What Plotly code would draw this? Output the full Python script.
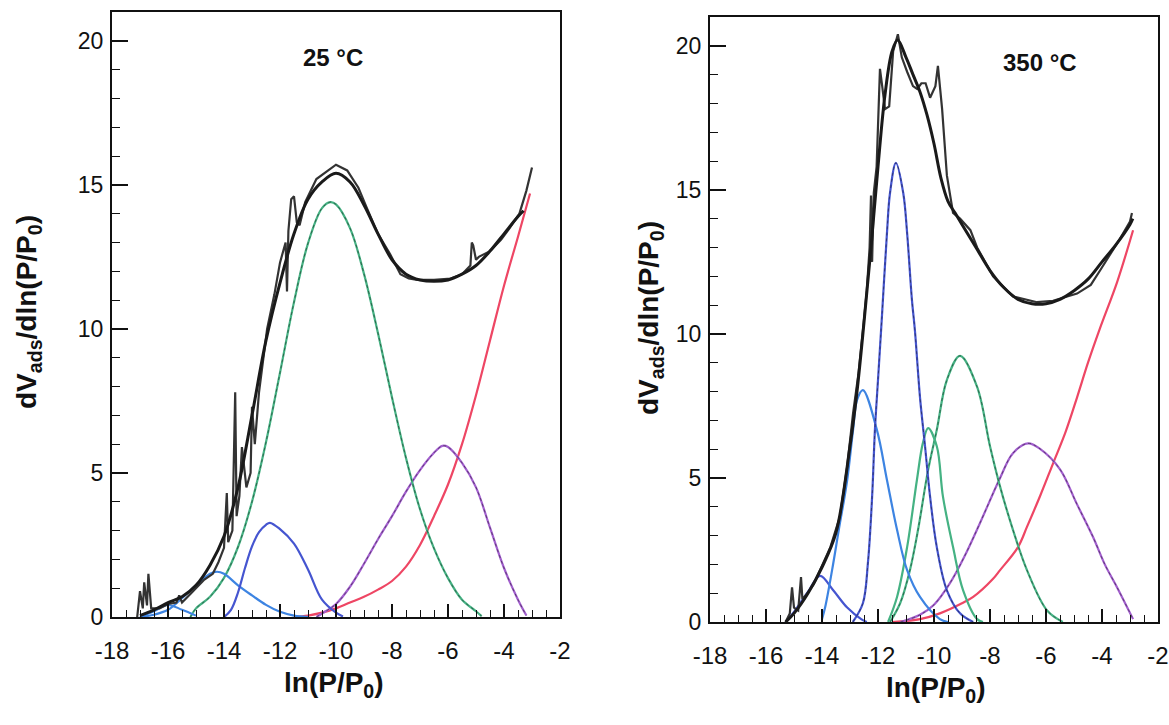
import plotly.graph_objects as go

W, H = 1169, 725

# ---------------- Left panel (25 °C) ----------------
L_exp_x = [-17.1, -17.0, -16.9, -16.85, -16.75, -16.7, -16.6, -16.3, -16.0, -15.7, -15.6, -15.5, -15.2, -15.0,
           -14.7, -14.4, -14.2, -14.0, -13.9, -13.85, -13.7, -13.6, -13.55, -13.45, -13.36, -13.2, -13.05, -13.0,
           -12.9, -12.75, -12.6, -12.46, -12.2, -12.0, -11.8, -11.75, -11.7, -11.6, -11.5, -11.4, -11.3, -11.1,
           -10.7, -10.3, -10.0, -9.6, -9.2, -8.9, -8.5, -8.07, -7.7, -7.4, -7.1, -6.5, -5.9, -5.5, -5.2, -5.15,
           -5.1, -5.0, -4.9, -4.5, -4.1, -3.8, -3.45, -3.2, -3.0]
L_exp_y = [0.0, 0.9, 0.3, 1.2, 0.4, 1.5, 0.3, 0.3, 0.45, 0.5, 0.75, 0.5, 0.8, 1.0,
           1.3, 1.5, 1.9, 2.4, 4.3, 2.6, 3.0, 7.8, 3.5, 4.2, 5.9, 4.5, 5.0, 7.3,
           6.0, 7.8, 8.9, 10.0, 11.2, 12.3, 13.0, 11.3, 13.4, 14.5, 14.6, 13.7, 13.6, 14.4,
           15.2, 15.5, 15.7, 15.5, 14.9, 14.2, 13.3, 12.6, 11.9, 11.75, 11.7, 11.7, 11.75, 11.9, 12.2, 13.0,
           12.9, 12.4, 12.5, 12.7, 13.1, 13.5, 14.0, 14.8, 15.6]

L_fit_x = [-17.0, -16.5, -16.0, -15.5, -15.0, -14.5, -14.0, -13.5, -13.0, -12.5, -12.0, -11.5, -11.0, -10.5,
           -10.0, -9.5, -9.0, -8.5, -8.0, -7.5, -7.0, -6.5, -6.0, -5.5, -5.0, -4.5, -4.0, -3.5, -3.3]
L_fit_y = [0.05, 0.25, 0.5, 0.7, 1.1, 1.8, 2.8, 4.5, 7.0, 9.6, 11.6, 13.3, 14.5, 15.1,
           15.4, 15.1, 14.3, 13.3, 12.4, 11.9, 11.7, 11.65, 11.7, 11.9, 12.2, 12.7, 13.3, 13.9, 14.1]

L_blue0_x = [-17.0, -16.5, -16.0, -15.5, -15.0]
L_blue0_y = [0.0, 0.2, 0.42, 0.25, 0.05]

L_blue1_x = [-17.0, -16.5, -16.0, -15.5, -15.0, -14.5, -14.25, -14.0, -13.5, -13.0, -12.5, -12.0, -11.5, -11.0]
L_blue1_y = [0.0, 0.08, 0.25, 0.65, 1.1, 1.5, 1.57, 1.5, 1.1, 0.75, 0.42, 0.18, 0.05, 0.0]

L_blue2_x = [-14.0, -13.75, -13.5, -13.25, -13.0, -12.75, -12.5, -12.36, -12.0, -11.5, -11.0, -10.5, -10.0, -9.75]
L_blue2_y = [0.0, 0.25, 0.85, 1.7, 2.45, 2.95, 3.2, 3.27, 3.05, 2.55, 1.65, 0.6, 0.15, 0.02]

L_green_x = [-15.2, -15.0, -14.5, -14.0, -13.5, -13.0, -12.5, -12.0, -11.5, -11.0, -10.5, -10.2, -10.0, -9.5,
             -9.0, -8.5, -8.0, -7.5, -7.0, -6.5, -6.0, -5.5, -5.0, -4.8]
L_green_y = [0.0, 0.3, 0.7, 1.36, 2.43, 4.0, 6.07, 8.48, 10.93, 12.97, 14.19, 14.4, 14.32, 13.5,
             11.91, 9.85, 7.62, 5.52, 3.74, 2.38, 1.35, 0.6, 0.2, 0.03]

L_purple_x = [-10.7, -10.5, -10.0, -9.5, -9.0, -8.5, -8.0, -7.5, -7.0, -6.5, -6.2, -6.0, -5.5, -5.0, -4.5,
              -4.0, -3.5, -3.2]
L_purple_y = [0.0, 0.12, 0.45, 1.05, 1.85, 2.7, 3.5, 4.35, 5.1, 5.7, 5.94, 5.9, 5.35, 4.5, 3.1,
              1.7, 0.6, 0.05]

L_red_x = [-11.5, -11.0, -10.5, -10.0, -9.5, -9.0, -8.5, -8.0, -7.5, -7.0, -6.5, -6.0, -5.5, -5.0, -4.5,
           -4.0, -3.5, -3.07]
L_red_y = [0.0, 0.05, 0.15, 0.3, 0.5, 0.7, 0.95, 1.25, 1.75, 2.5, 3.5, 4.6, 6.0, 7.7, 9.6,
           11.5, 13.2, 14.7]

# ---------------- Right panel (350 °C) ----------------
R_exp_x = [-15.3, -15.15, -15.07, -15.0, -14.85, -14.75, -14.7, -14.6, -14.3, -14.07, -13.7, -13.36, -13.1,
           -12.89, -12.7, -12.54, -12.4, -12.3, -12.25, -12.21, -12.15, -12.05, -11.93, -11.85, -11.75, -11.6,
           -11.46, -11.29, -11.15, -10.96, -10.75, -10.6, -10.45, -10.3, -10.14, -9.95, -9.86, -9.71, -9.54,
           -9.32, -9.07, -8.7, -8.46, -7.89, -7.18, -6.32, -5.75, -4.89, -4.4, -4.07, -3.6, -3.36, -3.0, -2.93]
R_exp_y = [0.0, 0.3, 1.2, 0.5, 0.4, 1.56, 0.8, 0.9, 1.3, 1.8, 2.6, 3.66, 5.4,
           7.25, 8.6, 10.1, 11.5, 13.0, 14.8, 12.5, 14.9, 15.8, 19.2, 18.6, 17.8, 17.9,
           19.8, 20.4, 19.6, 19.1, 18.6, 18.5, 18.7, 18.7, 18.2, 18.6, 19.3, 17.8, 15.5,
           14.2, 14.0, 13.6, 13.0, 12.0, 11.3, 11.1, 11.15, 11.4, 11.7, 12.2, 12.9, 13.3, 13.9, 14.2]

R_fit_x = [-15.3, -15.0, -14.5, -14.0, -13.5, -13.0, -12.75, -12.5, -12.25, -12.0, -11.75, -11.5, -11.3,
           -11.0, -10.75, -10.5, -10.25, -10.0, -9.75, -9.5, -9.25, -9.0, -8.5, -8.0, -7.5, -7.0, -6.5,
           -6.0, -5.5, -5.0, -4.5, -4.0, -3.5, -3.0, -2.9]
R_fit_y = [0.0, 0.3, 1.0, 1.9, 3.1, 6.1, 8.0, 10.4, 13.0, 15.8, 18.3, 19.8, 20.2,
           19.6, 19.0, 18.4, 17.6, 16.6, 15.4, 14.6, 14.2, 13.8, 13.0, 12.2, 11.6, 11.2, 11.05,
           11.05, 11.2, 11.5, 11.9, 12.5, 13.1, 13.8, 14.0]

R_blue1_x = [-15.3, -15.0, -14.5, -14.07, -13.6, -13.1, -12.6, -12.4]
R_blue1_y = [0.0, 0.35, 1.05, 1.6, 1.1, 0.5, 0.1, 0.0]

R_blue2_x = [-14.0, -13.89, -13.64, -13.4, -13.1, -12.89, -12.75, -12.54, -12.04, -11.68, -11.32, -10.96,
             -10.5, -9.79, -9.5]
R_blue2_y = [0.1, 0.5, 1.8, 3.2, 4.93, 6.67, 7.7, 8.05, 6.67, 4.93, 3.2, 1.8,
             0.87, 0.1, 0.0]

R_blue3_x = [-12.9, -12.54, -12.36, -12.21, -12.11, -12.0, -11.86, -11.68, -11.57, -11.36, -11.1, -10.96,
             -10.79, -10.68, -10.5, -10.32, -10.14, -9.9, -9.54, -9.07, -8.6]
R_blue3_y = [0.0, 0.65, 2.05, 4.35, 6.67, 8.4, 10.6, 13.5, 14.9, 15.94, 14.9, 13.5,
             11.2, 10.1, 7.8, 6.1, 4.35, 2.6, 1.1, 0.3, 0.0]

R_green1_x = [-11.64, -11.32, -10.96, -10.61, -10.4, -10.21, -9.9, -9.68, -9.32, -8.96, -8.46, -8.25]
R_green1_y = [0.0, 0.87, 2.6, 4.93, 6.2, 6.73, 6.1, 4.35, 2.6, 1.1, 0.1, 0.0]

R_green2_x = [-11.57, -11.21, -10.86, -10.57, -10.21, -9.9, -9.54, -9.07, -8.46, -8.0, -7.64, -7.18,
              -6.68, -5.96, -5.4]
R_green2_y = [0.0, 0.65, 1.8, 3.2, 5.28, 6.67, 8.4, 9.24, 8.16, 6.1, 4.7, 3.2,
              1.8, 0.4, 0.0]

R_purple_x = [-11.2, -10.5, -10.0, -9.43, -8.9, -8.36, -7.64, -7.18, -6.64, -6.2, -5.5, -4.9, -4.32,
              -3.9, -3.46, -2.89]
R_purple_y = [0.0, 0.25, 0.6, 1.35, 2.3, 3.43, 5.0, 5.86, 6.2, 6.0, 5.3, 4.1, 2.95,
              2.0, 1.2, 0.1]

R_red_x = [-11.5, -10.5, -9.79, -9.0, -8.6, -7.89, -7.64, -7.0, -6.68, -6.2, -5.75, -5.3, -4.89, -4.5,
           -4.07, -3.46, -2.89]
R_red_y = [0.0, 0.1, 0.3, 0.65, 0.87, 1.5, 1.8, 2.6, 3.3, 4.4, 5.5, 6.6, 7.8, 9.0,
           10.2, 11.8, 13.6]

panel_titles = ["25 °C", "350 °C"]
x_ticks = [-18, -16, -14, -12, -10, -8, -6, -4, -2]
y_ticks = [0, 5, 10, 15, 20]

BLUE = "#4555d0"
BLUE_L = "#3d84e2"
GREEN = "#45b283"
PURPLE = "#a35fcf"
RED = "#ee4664"
BLACK = "#1a1a1a"
GREY = "#333333"

fig = go.Figure()


def comp(x, y, color, xa, ya, width=2.0, dots=False):
    fig.add_trace(go.Scatter(x=x, y=y, mode="lines", xaxis=xa, yaxis=ya,
                             line=dict(color=color, width=width, shape="spline", smoothing=1.0),
                             showlegend=False, hoverinfo="skip"))
    if dots:
        fig.add_trace(go.Scatter(x=x, y=y, mode="lines", xaxis=xa, yaxis=ya,
                                 line=dict(color="rgba(20,20,20,0.55)", width=0.9, dash="dot",
                                           shape="spline", smoothing=1.0),
                                 showlegend=False, hoverinfo="skip"))


# left components
comp(L_red_x, L_red_y, RED, "x", "y", width=2.2)
comp(L_purple_x, L_purple_y, PURPLE, "x", "y", width=2.2, dots=True)
comp(L_green_x, L_green_y, GREEN, "x", "y", width=2.2, dots=True)
comp(L_blue0_x, L_blue0_y, BLUE_L, "x", "y")
comp(L_blue1_x, L_blue1_y, BLUE_L, "x", "y", width=2.2)
comp(L_blue2_x, L_blue2_y, BLUE, "x", "y", width=2.2)
fig.add_trace(go.Scatter(x=L_exp_x, y=L_exp_y, mode="lines", xaxis="x", yaxis="y",
                         line=dict(color=GREY, width=2.2), showlegend=False, hoverinfo="skip"))
fig.add_trace(go.Scatter(x=L_fit_x, y=L_fit_y, mode="lines", xaxis="x", yaxis="y",
                         line=dict(color=BLACK, width=3, shape="spline", smoothing=1.0),
                         showlegend=False, hoverinfo="skip"))

# right components
comp(R_red_x, R_red_y, RED, "x2", "y2", width=2.2)
comp(R_purple_x, R_purple_y, PURPLE, "x2", "y2", width=2.2, dots=True)
comp(R_green2_x, R_green2_y, GREEN, "x2", "y2", width=2.2, dots=True)
comp(R_green1_x, R_green1_y, GREEN, "x2", "y2", width=2.2)
comp(R_blue1_x, R_blue1_y, BLUE, "x2", "y2", width=2.2)
comp(R_blue2_x, R_blue2_y, BLUE_L, "x2", "y2", width=2.2)
comp(R_blue3_x, R_blue3_y, BLUE, "x2", "y2", width=2.2, dots=True)
fig.add_trace(go.Scatter(x=R_exp_x, y=R_exp_y, mode="lines", xaxis="x2", yaxis="y2",
                         line=dict(color=GREY, width=2.2), showlegend=False, hoverinfo="skip"))
fig.add_trace(go.Scatter(x=R_fit_x, y=R_fit_y, mode="lines", xaxis="x2", yaxis="y2",
                         line=dict(color=BLACK, width=3, shape="spline", smoothing=1.0),
                         showlegend=False, hoverinfo="skip"))

FONT = "Arial, Liberation Sans, sans-serif"

xa_common = dict(range=[-18, -2], tickvals=x_ticks, ticktext=[str(v) for v in x_ticks],
                 ticks="inside", ticklen=13, tickwidth=1.5, tickcolor="#111",
                 minor=dict(dtick=0.5, tick0=-18, ticks="inside", ticklen=7, tickwidth=1.2, tickcolor="#111"),
                 showline=True, linecolor="#111", linewidth=2, mirror=True, showgrid=False, zeroline=False,
                 automargin=False,
                 tickfont=dict(family=FONT, size=24, color="#111"), ticklabelstandoff=11)
ya_common = dict(range=[0, 21], tickvals=y_ticks, ticktext=[str(v) for v in y_ticks],
                 ticks="inside", ticklen=16, tickwidth=1.5, tickcolor="#111",
                 minor=dict(dtick=1, tick0=0, ticks="inside", ticklen=8, tickwidth=1.2, tickcolor="#111"),
                 showline=True, linecolor="#111", linewidth=2, mirror=True, showgrid=False, zeroline=False,
                 automargin=False,
                 tickfont=dict(family=FONT, size=23, color="#111"), ticklabelstandoff=2)


def px_x(p):
    return p / W


def px_y(p):
    return 1 - p / H


fig.update_layout(
    width=W, height=H,
    margin=dict(l=0, r=0, t=0, b=0, autoexpand=False),
    paper_bgcolor="white", plot_bgcolor="white",
    xaxis=dict(domain=[px_x(112), px_x(560)], anchor="y", **xa_common),
    yaxis=dict(domain=[px_y(617), px_y(12)], anchor="x", **ya_common),
    xaxis2=dict(domain=[px_x(710), px_x(1158)], anchor="y2", **xa_common),
    yaxis2=dict(domain=[px_y(622), px_y(17)], anchor="x2", **ya_common),
)

ytitle = "<b>dV<sub>ads</sub>/dln(P/P<sub>0</sub>)</b>"
xtitle = "<b>ln(P/P<sub>0</sub>)</b>"
ann = []
for xc, yc in ((28, 312), (650, 318)):
    ann.append(dict(text=ytitle, x=px_x(xc), y=px_y(yc), xref="paper", yref="paper", textangle=-90,
                    showarrow=False, font=dict(family=FONT, size=28, color="#111"),
                    xanchor="center", yanchor="middle"))
for xc, yc in ((334, 684), (936, 689)):
    ann.append(dict(text=xtitle, x=px_x(xc), y=px_y(yc), xref="paper", yref="paper",
                    showarrow=False, font=dict(family=FONT, size=28, color="#111"),
                    xanchor="center", yanchor="middle"))
ann.append(dict(text="<b>" + panel_titles[0] + "</b>", x=px_x(333), y=px_y(57), xref="paper", yref="paper",
                showarrow=False, font=dict(family=FONT, size=24, color="#111"), xanchor="center", yanchor="middle"))
ann.append(dict(text="<b>" + panel_titles[1] + "</b>", x=px_x(1040), y=px_y(63), xref="paper", yref="paper",
                showarrow=False, font=dict(family=FONT, size=24, color="#111"), xanchor="center", yanchor="middle"))
fig.update_layout(annotations=ann)

fig.write_html("out.html",
               config={"displayModeBar": False},
               post_script="document.body.style.margin='0';document.body.style.overflow='hidden';")
